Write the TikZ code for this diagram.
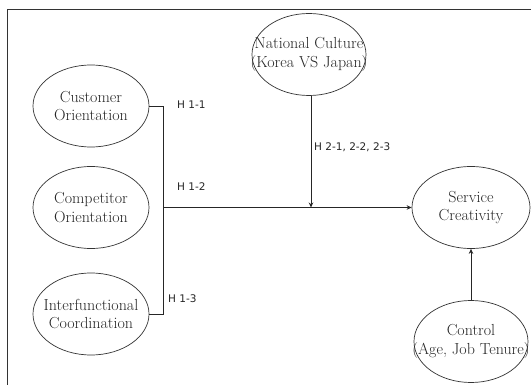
\documentclass[tikz,border=0pt]{standalone}
\usepackage{fontspec}
\newfontfamily\labfont{DejaVu Sans}
\usetikzlibrary{shapes.geometric,arrows.meta}
\tikzset{
  var/.style={draw=black!80, line width=0.7pt, ellipse, minimum width=116pt, minimum height=82pt,
    inner sep=0pt},
  vartext/.style={inner sep=0pt, align=center, text=black!85, font=\fontsize{16}{18.5}\selectfont},
  hyp/.style={font=\labfont\fontsize{10.5}{12}\selectfont, text=black!85, inner sep=0pt, anchor=west},
  conn/.style={draw=black!85, line width=0.8pt},
  arr/.style={conn, -{Stealth[length=5pt,width=4.5pt]}}
}
\begin{document}
\begin{tikzpicture}[x=1pt,y=-1pt]
\useasboundingbox (0,0) rectangle (531,385);
\fill[white] (0,0) rectangle (531,385);
% frame (right and bottom edges lie outside the picture)
\draw[black!80, line width=0.9pt] (7.5,385) -- (7.5,9) -- (531,9);

\node[var] (cust) at (91,106) {};
\node[var] (comp) at (91,207.5) {};
\node[var] (inter) at (91,314) {};
\node[var, minimum width=114pt] (nat) at (309,54.5) {};
\node[var, minimum width=118pt] (serv) at (471,207.5) {};
\node[var, minimum width=114pt] (ctrl) at (471,341.5) {};

\node[vartext] (custt) at (cust) {Customer\\Orientation};
\node[vartext] (compt) at (comp) {Competitor\\Orientation};
\node[vartext] (intert) at (inter) {Interfunctional\\Coordination};
\node[vartext] (natt) at (nat) {National Culture\\(Korea VS Japan)};
\node[vartext] (servt) at (serv) {Service\\Creativity};
\node[vartext] (ctrlt) at (ctrl) {Control\\(Age, Job Tenure)};

\coordinate (jt) at (163,106);
\coordinate (jb) at (163,314);
\coordinate (j) at (163,207.5);
\coordinate (m) at (311,207.5);

\draw[conn] (cust.east) -- (jt) -- (jb) -- (inter.east);
\draw[arr] (j) -- (serv.west);
\draw[arr] (nat.south -| m) -- (m);
\draw[arr] (ctrl.north) -- (serv.south);

\node[hyp] (h11) at (177,105) {H 1-1};
\node[hyp] (h12) at (177,187) {H 1-2};
\node[hyp] (h13) at (168,299) {H 1-3};
\node[hyp] (h2) at (314,147) {H 2-1, 2-2, 2-3};
\end{tikzpicture}
\end{document}
